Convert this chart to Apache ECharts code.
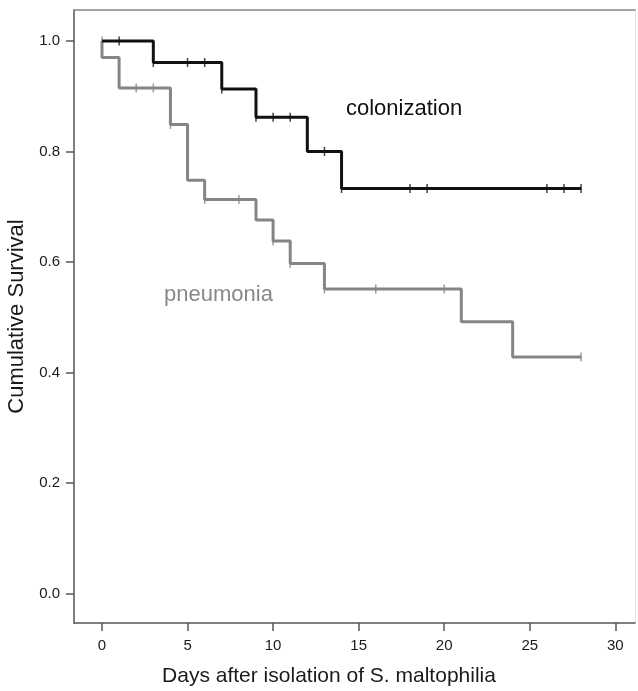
<!DOCTYPE html>
<html>
<head>
<meta charset="utf-8">
<script src="https://cdn.jsdelivr.net/npm/echarts@6/dist/echarts.min.js"></script>
<style>
    html, body { margin: 0; padding: 0; background: #fff; }
    #chart { width: 638px; height: 691px; }
</style>
</head>
<body>
<div id="chart"></div>
<script>
    // colonization group: event times and survival after each step
    var colTime = [0, 3, 7, 9, 12, 14, 28]
    var colSurv = [1.0, 0.961, 0.913, 0.862, 0.800, 0.733, 0.733]
    var colCensorTime = [1, 3, 5, 6, 7, 9, 10, 11, 13, 14, 18, 19, 26, 27, 28]
    var colCensorSurv = [1.0, 0.961, 0.961, 0.961, 0.913, 0.862, 0.862, 0.862, 0.800, 0.733, 0.733, 0.733, 0.733, 0.733, 0.733]

    // pneumonia group
    var pneuTime = [0, 0, 1, 4, 5, 6, 9, 10, 11, 13, 21, 24, 28]
    var pneuSurv = [1.0, 0.970, 0.915, 0.849, 0.748, 0.713, 0.676, 0.638, 0.597, 0.551, 0.492, 0.428, 0.428]
    var pneuCensorTime = [0, 2, 3, 4, 6, 8, 10, 11, 13, 16, 20, 28]
    var pneuCensorSurv = [1.0, 0.915, 0.915, 0.849, 0.713, 0.713, 0.638, 0.597, 0.551, 0.551, 0.551, 0.428]

    var xTicks = [0, 5, 10, 15, 20, 25, 30]
    var yTicks = [0, 0.2, 0.4, 0.6, 0.8, 1.0]

    function pairs (xs, ys) {
        return xs.map(function (x, i) { return [x, ys[i]] })
    }

    var font = 'Liberation Sans, Arial, Helvetica, sans-serif'
    var chart = echarts.init(document.getElementById('chart'))

    chart.setOption({
        animation: false,
        grid: { left: 74, right: 3, top: 10, bottom: 68, outerBoundsMode: 'none', containLabel: false },
        xAxis: [{
            type: 'value',
            min: -1.636,
            max: 31.15,
            name: 'Days after isolation of S. maltophilia',
            nameLocation: 'middle',
            nameGap: 43,
            nameTextStyle: { fontFamily: font, fontSize: 21, color: '#1a1a1a', padding: [0, 51, 0, 0] },
            axisLine: { show: true, onZero: false, lineStyle: { color: '#555', width: 1.5 } },
            axisTick: { show: true, length: 8, customValues: xTicks, lineStyle: { color: '#555', width: 1.5 } },
            axisLabel: { customValues: xTicks, margin: 15, fontFamily: font, fontSize: 15, color: '#1a1a1a' },
            splitLine: { show: false }
        }, {
            type: 'value',
            position: 'top',
            min: -1.636,
            max: 31.15,
            axisLine: { show: true, onZero: false, lineStyle: { color: '#888', width: 1.5 } },
            axisTick: { show: false },
            axisLabel: { show: false },
            splitLine: { show: false }
        }],
        yAxis: [{
            type: 'value',
            min: -0.0534,
            max: 1.056,
            name: 'Cumulative Survival',
            nameLocation: 'middle',
            nameGap: 46,
            nameTextStyle: { fontFamily: font, fontSize: 22, color: '#1a1a1a' },
            axisLine: { show: true, onZero: false, lineStyle: { color: '#555', width: 1.5 } },
            axisTick: { show: true, length: 8, customValues: yTicks, lineStyle: { color: '#555', width: 1.5 } },
            axisLabel: {
                customValues: yTicks,
                margin: 14,
                fontFamily: font,
                fontSize: 15,
                color: '#1a1a1a',
                formatter: function (v) { return v.toFixed(1) }
            },
            splitLine: { show: false }
        }, {
            type: 'value',
            position: 'right',
            min: -0.0534,
            max: 1.056,
            axisLine: { show: true, onZero: false, lineStyle: { color: '#e2e2e2', width: 1 } },
            axisTick: { show: false },
            axisLabel: { show: false },
            splitLine: { show: false }
        }],
        graphic: [{
            type: 'text',
            left: 346,
            top: 98,
            style: { text: 'colonization', font: '22px ' + font, fill: '#111' }
        }, {
            type: 'text',
            left: 164,
            top: 284,
            style: { text: 'pneumonia', font: '22px ' + font, fill: '#888' }
        }],
        series: [{
            name: 'pneumonia',
            type: 'line',
            step: 'end',
            showSymbol: false,
            lineStyle: { color: '#858585', width: 3 },
            data: pairs(pneuTime, pneuSurv),
            z: 2
        }, {
            name: 'pneumonia censored',
            type: 'scatter',
            symbol: 'rect',
            symbolSize: [1.5, 9],
            itemStyle: { color: '#858585' },
            data: pairs(pneuCensorTime, pneuCensorSurv),
            z: 3
        }, {
            name: 'colonization',
            type: 'line',
            step: 'end',
            showSymbol: false,
            lineStyle: { color: '#111', width: 3 },
            data: pairs(colTime, colSurv),
            z: 4
        }, {
            name: 'colonization censored',
            type: 'scatter',
            symbol: 'rect',
            symbolSize: [1.5, 9],
            itemStyle: { color: '#111' },
            data: pairs(colCensorTime, colCensorSurv),
            z: 5
        }]
    })
</script>
</body>
</html>
